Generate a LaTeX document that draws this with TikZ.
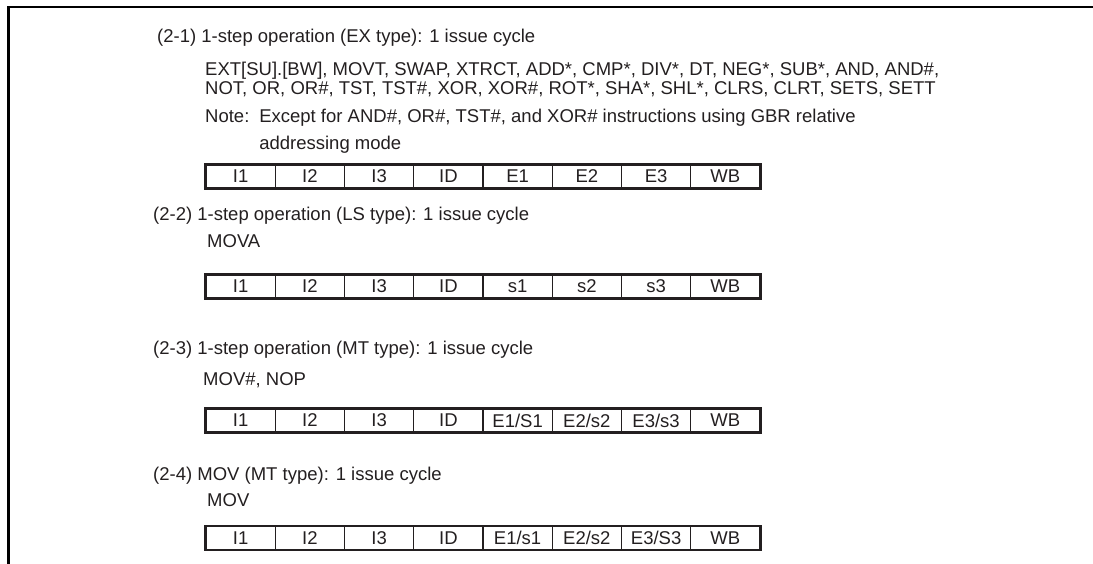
\documentclass[tikz,border=0pt]{standalone}
\usepackage{fontspec}
\setmainfont{Liberation Sans}
\definecolor{ink}{HTML}{231F20}
\begin{document}
\begin{tikzpicture}[x=1pt,y=-1pt,
  txt/.style={anchor=base west,inner sep=0pt,text=ink,font=\fontsize{18.5}{21}\selectfont},
  cell/.style={draw=ink,line width=1.3pt,minimum width=69.25pt,minimum height=23pt,inner sep=0pt,text=ink,font=\fontsize{18.5}{21}\selectfont},
  outer/.style={draw=ink,line width=2pt}]
\useasboundingbox (0,0) rectangle (1093,563);
\draw[line width=2.8pt,black] (8.7,564) -- (8.7,7) -- (1094,7);

\node[txt] (h1) at (157,42) {(2-1) 1-step operation (EX type): 1 issue cycle};
\node[txt] (l1a) at (205,75) {EXT[SU].[BW], MOVT, SWAP, XTRCT, ADD*, CMP*, DIV*, DT, NEG*, SUB*, AND, AND\#,};
\node[txt] (l1b) at (205,94) {NOT, OR, OR\#, TST, TST\#, XOR, XOR\#, ROT*, SHA*, SHL*, CLRS, CLRT, SETS, SETT};
\node[txt] (n1) at (205,122) {Note:};
\node[txt,anchor=base west] (n1b) at ([xshift=9.5pt]n1.base east) {Except for AND\#, OR\#, TST\#, and XOR\# instructions using GBR relative};
\node[txt] (n2) at (n1b.base west |- 0,149) {addressing mode};

\node[txt] (h2) at (153,220) {(2-2) 1-step operation (LS type): 1 issue cycle};
\node[txt] (l2) at (207,247) {MOVA};

\node[txt] (h3) at (153,354) {(2-3) 1-step operation (MT type): 1 issue cycle};
\node[txt] (l3) at (203,385) {MOV\#, NOP};

\node[txt] (h4) at (153,480) {(2-4) MOV (MT type): 1 issue cycle};
\node[txt] (l4) at (207,506) {MOV};

\foreach \lab [count=\i] in {I1,I2,I3,ID,E1,E2,E3,WB}
  \node[cell] (a\i) at ({206+69.25*(\i-0.5)},176.5) {\lab};
\draw[outer] (a1.north west) rectangle (a8.south east);

\foreach \lab [count=\i] in {I1,I2,I3,ID,s1,s2,s3,WB}
  \node[cell] (b\i) at ({206+69.25*(\i-0.5)},286.5) {\lab};
\draw[outer] (b1.north west) rectangle (b8.south east);

\foreach \lab [count=\i] in {I1,I2,I3,ID,E1/S1,E2/s2,E3/s3,WB}
  \node[cell] (c\i) at ({206+69.25*(\i-0.5)},420.5) {\lab};
\draw[outer] (c1.north west) rectangle (c8.south east);

\foreach \lab [count=\i] in {I1,I2,I3,ID,E1/s1,E2/s2,E3/S3,WB}
  \node[cell] (d\i) at ({206+69.25*(\i-0.5)},538) {\lab};
\draw[outer] (d1.north west) rectangle (d8.south east);
\end{tikzpicture}
\end{document}
